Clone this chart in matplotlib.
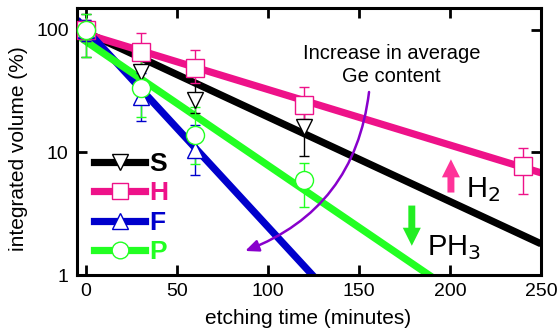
import numpy as np
import matplotlib
matplotlib.use("Agg")
import matplotlib.pyplot as plt
from matplotlib.lines import Line2D

plt.rcParams['font.family'] = ['Liberation Sans', 'DejaVu Sans']

# ---------------- data ----------------
names = ["S", "H", "F", "P"]
colors = {"S": "#000000", "H": "#EE1289", "F": "#0000CC", "P": "#22FF22"}
markers = {"S": "v", "H": "s", "F": "^", "P": "o"}

t_S = [0, 30, 60, 120]
v_S = [100, 45, 26.7, 16.1]
lo_S = [60, 35, 20.8, 9.4]
hi_S = [135, 58, 36.6, 27.6]

t_H = [0, 30, 60, 120, 240]
v_H = [100, 65.6, 48.5, 24.3, 7.8]
lo_H = [80, 47, 36.7, 18.6, 4.6]
hi_H = [120, 93.5, 68, 34.3, 10.9]

t_F = [0, 30, 60]
v_F = [100, 28.4, 10.4]
lo_F = [80, 18.1, 6.5]
hi_F = [120, 44, 16.6]

t_P = [0, 30, 60, 120]
v_P = [100, 33.3, 13.8, 5.97]
lo_P = [60, 19.4, 8.1, 3.57]
hi_P = [135, 57, 23.5, 8.2]

# exponential fits: amplitude, decay time (minutes)
fit_A = {"S": 95, "H": 92, "F": 100, "P": 80}
fit_tau = {"S": 63, "H": 96, "F": 27, "P": 43}

x_ticks = [0, 50, 100, 150, 200, 250]
y_ticks = [1, 10, 100]

data = {"S": (t_S, v_S, lo_S, hi_S), "H": (t_H, v_H, lo_H, hi_H),
        "F": (t_F, v_F, lo_F, hi_F), "P": (t_P, v_P, lo_P, hi_P)}

# ---------------- figure ----------------
fig = plt.figure(figsize=(5.6, 3.31), dpi=100)
ax = fig.add_axes([77/560, 1-275/331, (541-77)/560, (275-8)/331])
ax.set_yscale('log')
ax.set_xlim(-5, 250)
ax.set_ylim(1, 150)

tt = np.linspace(-5, 250, 400)
for n in names:
    ax.plot(tt, fit_A[n]*np.exp(-tt/fit_tau[n]), color=colors[n], lw=5.2,
            solid_capstyle='butt', zorder=2)

for n in names:
    t, v, lo, hi = data[n]
    v = np.array(v); lo = np.array(lo); hi = np.array(hi)
    ax.errorbar(t, v, yerr=[v-lo, hi-v], fmt='none', ecolor=colors[n],
                elinewidth=1.0, capsize=3.5, capthick=1.0, zorder=3)
for n in names:
    t, v, lo, hi = data[n]
    ms = 13 if markers[n] in ('o', 's') else 12
    ax.plot(t, v, ls='none', marker=markers[n], ms=ms, mfc='white',
            mec=colors[n], mew=1.0, zorder=4, clip_on=False)

ax.set_xticks(x_ticks)
ax.set_yticks(y_ticks)
ax.set_yticklabels([str(y) for y in y_ticks])
ax.minorticks_off()
ax.tick_params(which='both', direction='in', length=7, width=2,
               top=True, right=True, labelsize=14, pad=6)
for s in ax.spines.values():
    s.set_linewidth(2.2)

ax.set_xlabel("etching time (minutes)", fontsize=15, va='center')
ax.xaxis.set_label_coords(0.499, -0.163)
ax.set_ylabel("integrated volume (%)", fontsize=15, va='center')
ax.yaxis.set_label_coords(-0.127, 0.474)

# legend
handles = [Line2D([], [], color=colors[n], lw=5.2, marker=markers[n],
                  ms=12, mfc='white', mec=colors[n], mew=1.0) for n in names]
leg = ax.legend(handles, names, loc='lower left', bbox_to_anchor=(-0.009, -0.038),
                frameon=False, handlelength=1.95, handletextpad=0.15,
                labelspacing=0.2, prop={'weight': 'bold', 'size': 19},
                labelcolor='linecolor', borderaxespad=0.4)

# annotations
ax.text(168, 51.7, "Increase in average\nGe content", ha='center', va='center',
        fontsize=14.5, linespacing=1.25)
ax.annotate("", xy=(87.4, 1.57), xytext=(155.5, 31),
            arrowprops=dict(arrowstyle='-|>,head_length=0.8,head_width=0.35',
                            color='#8800CC', lw=1.8, shrinkA=0, shrinkB=0,
                            connectionstyle='arc3,rad=-0.3'))

ax.annotate("", xy=(200.5, 8.77), xytext=(200.5, 4.7),
            arrowprops=dict(arrowstyle='simple,head_length=0.65,head_width=0.65,tail_width=0.25',
                            mutation_scale=20, shrinkA=0, shrinkB=0,
                            color='#FF3399', lw=0))
ax.text(209, 5.0, "H$_2$", fontsize=21, va='center', ha='left')

ax.annotate("", xy=(179, 1.73), xytext=(179, 3.68),
            arrowprops=dict(arrowstyle='simple,head_length=0.65,head_width=0.65,tail_width=0.25',
                            mutation_scale=20, shrinkA=0, shrinkB=0,
                            color='#22EE22', lw=0))
ax.text(187.5, 1.68, "PH$_3$", fontsize=21, va='center', ha='left')

fig.savefig("out.png", dpi=100)
